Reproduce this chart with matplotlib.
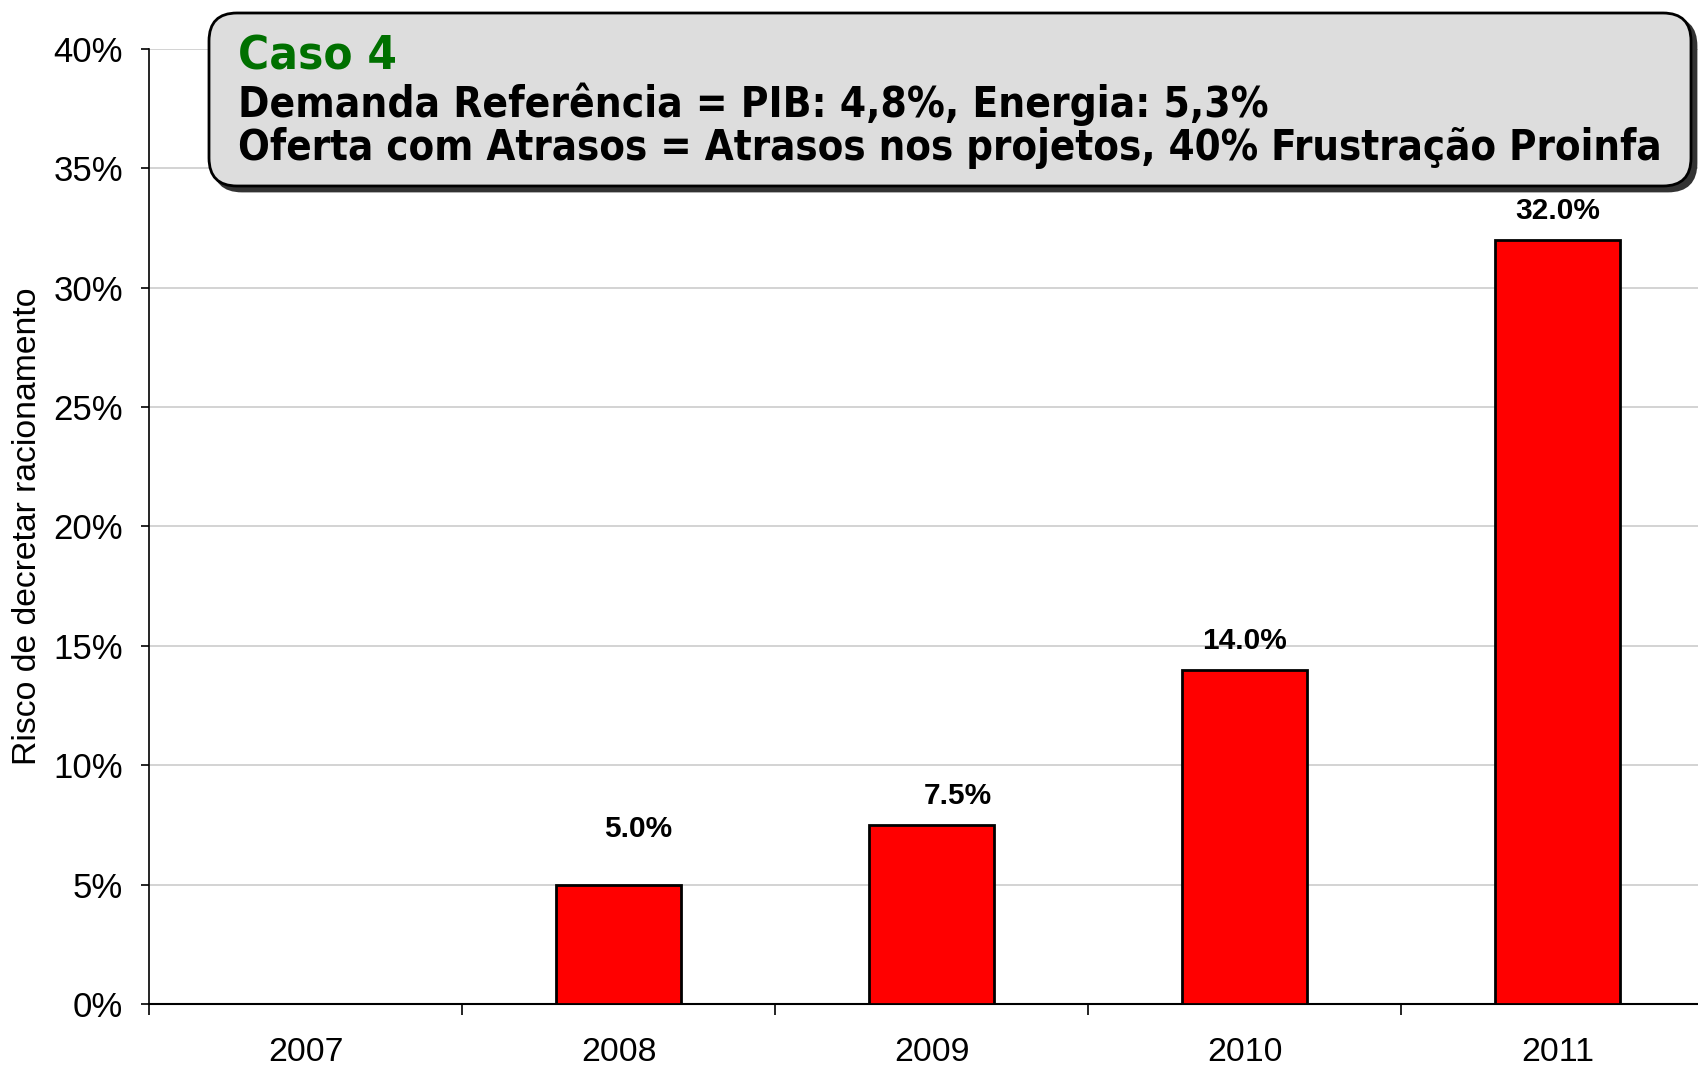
import numpy as np
import matplotlib.pyplot as plt
from matplotlib.patches import FancyBboxPatch
from matplotlib.ticker import FixedLocator, PercentFormatter

# data
anos = ['2007', '2008', '2009', '2010', '2011']
risco = [0.0, 5.0, 7.5, 14.0, 32.0]
rotulos = ['', '5.0%', '7.5%', '14.0%', '32.0%']
# label offsets in points (dx, dy) from bar top
offs = [(0, 0), (14, 40), (19, 21), (0, 21), (0, 21)]

titulo = 'Caso 4'
linha2 = 'Demanda Referência = PIB: 4,8%, Energia: 5,3%'
linha3 = 'Oferta com Atrasos = Atrasos nos projetos, 40% Frustração Proinfa'

W, H = 1698, 1068
fig = plt.figure(figsize=(W / 100, H / 100), dpi=100)
plt.rcParams['font.family'] = ['Liberation Sans', 'DejaVu Sans']

ax = fig.add_axes([0.0880, 0.0598, 0.9216, 0.8946])
x = np.arange(len(anos))
ax.bar(x, risco, width=0.4, color='#ff0000', edgecolor='black', linewidth=2, zorder=3)
for i, v in enumerate(risco):
    if rotulos[i]:
        ax.annotate(rotulos[i], (x[i], v), xytext=offs[i], textcoords='offset points',
                    ha='center', va='center', fontsize=21.5, fontweight='bold')

ax.set_xlim(-0.5, len(anos) - 0.5)
ax.set_ylim(0, 40)
ax.yaxis.set_major_locator(FixedLocator(np.arange(0, 41, 5)))
ax.yaxis.set_major_formatter(PercentFormatter(decimals=0))
ax.grid(axis='y', color='#c8c8c8', linewidth=1.1, zorder=0)
ax.set_axisbelow(True)

ax.set_xticks(x)
ax.set_xticklabels(anos)
ax.xaxis.set_minor_locator(FixedLocator(np.arange(-0.5, len(anos), 1)))
ax.tick_params(axis='x', which='major', length=0, pad=24, labelsize=24.4)
ax.tick_params(axis='x', which='minor', length=8, width=1.2, direction='out')
ax.tick_params(axis='y', length=6, width=1.2, pad=13, labelsize=25)

for s in ['top', 'right']:
    ax.spines[s].set_visible(False)
ax.spines['left'].set_linewidth(1.2)
ax.spines['bottom'].set_linewidth(1.5)

ax.set_ylabel('Risco de decretar racionamento', fontsize=24.3)
ax.yaxis.set_label_coords(-0.068, 0.5)

# title box overlay in pixel coordinates
ov = fig.add_axes([0, 0, 1, 1], zorder=5)
ov.set_xlim(0, W)
ov.set_ylim(0, H)
ov.axis('off')
ov.patch.set_visible(False)

bx0, by0, bw, bh = 209, 882, 1482, 173
sh = FancyBboxPatch((bx0 + 5, by0 - 5), bw, bh, boxstyle='round,pad=0,rounding_size=28',
                    facecolor='#333333', edgecolor='#333333', linewidth=2)
ov.add_patch(sh)
bx = FancyBboxPatch((bx0, by0), bw, bh, boxstyle='round,pad=0,rounding_size=28',
                    facecolor='#dddddd', edgecolor='black', linewidth=2)
ov.add_patch(bx)

tf = dict(family=['DejaVu Sans'], fontweight='bold', fontstretch='condensed')
ov.text(238, 998, titulo, color='#007000', fontsize=34, va='baseline', **tf)
ov.text(238, 951, linha2, color='black', fontsize=30.3, va='baseline', **tf)
ov.text(238, 908, linha3, color='black', fontsize=30, va='baseline', **tf)

fig.savefig('out.png', dpi=100)
